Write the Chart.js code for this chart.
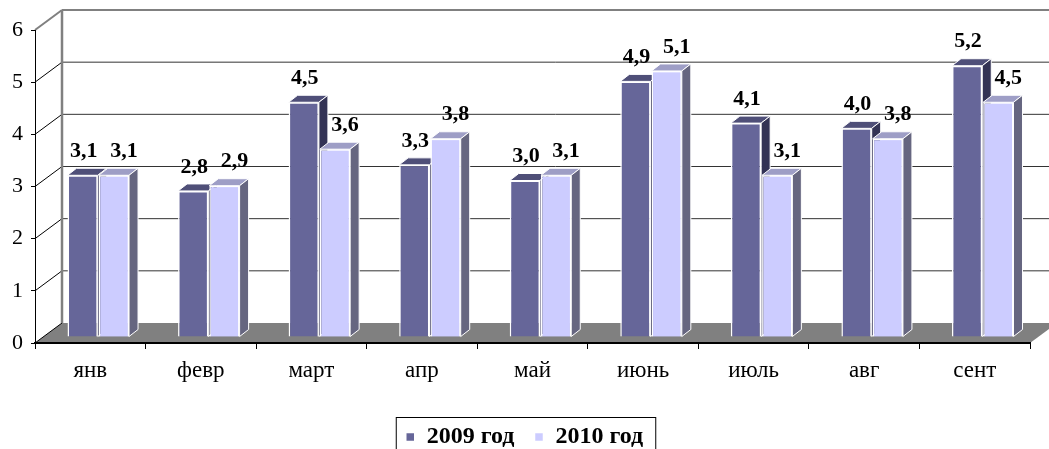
<!DOCTYPE html>
<html>
<head>
<meta charset="utf-8">
<script src="https://cdn.jsdelivr.net/npm/chart.js@4"></script>
<style>
    html, body { margin: 0; padding: 0; background: #fff; }
</style>
</head>
<body>
<canvas id="grafico" width="1049" height="449"></canvas>
<script>
const meses = ['янв', 'февр', 'март', 'апр', 'май', 'июнь', 'июль', 'авг', 'сент'];
const valores2009 = [3.1, 2.8, 4.5, 3.3, 3.0, 4.9, 4.1, 4.0, 5.2];
const valores2010 = [3.1, 2.9, 3.6, 3.8, 3.1, 5.1, 3.1, 3.8, 4.5];
const nomesSeries = ['2009 год', '2010 год'];
const marcasY = [0, 1, 2, 3, 4, 5, 6];

const fonte = 'Liberation Serif, Times New Roman, serif';

// profundidade das paredes e das barras (efeito 3D)
const parede = { dx: 27, dy: -20 };
const barra = { dx: 9, dy: -7 };
const deslocBarra = { dx: 8, dy: -6 };
const deslocRotulo = [1, 10]; // rótulos da 2ª série ficam mais à direita

const cores = [
    { frente: '#666699', topo: '#4f4f78', lado: '#333355' },
    { frente: '#ccccff', topo: '#9e9ec6', lado: '#666680' }
];

function formatar(v) {
    return v.toFixed(1).replace('.', ',');
}

function desenharFaces(ctx, el, cor) {
    const x0 = el.x - el.width / 2;
    const x1 = el.x + el.width / 2;
    const yt = el.y;
    const yb = el.base;
    ctx.strokeStyle = '#ffffff';
    ctx.lineWidth = 1;
    // topo
    ctx.fillStyle = cor.topo;
    ctx.beginPath();
    ctx.moveTo(x0, yt);
    ctx.lineTo(x1, yt);
    ctx.lineTo(x1 + barra.dx, yt + barra.dy);
    ctx.lineTo(x0 + barra.dx, yt + barra.dy);
    ctx.closePath();
    ctx.fill();
    ctx.stroke();
    // lado
    ctx.fillStyle = cor.lado;
    ctx.beginPath();
    ctx.moveTo(x1, yt);
    ctx.lineTo(x1 + barra.dx, yt + barra.dy);
    ctx.lineTo(x1 + barra.dx, yb + barra.dy);
    ctx.lineTo(x1, yb);
    ctx.closePath();
    ctx.fill();
    ctx.stroke();
}

const plugin3d = {
    id: 'efeito3d',
    beforeDraw(chart) {
        const ctx = chart.ctx;
        const y = chart.scales.y;
        const area = chart.chartArea;
        const xEsq = area.left + parede.dx;
        const xDir = chart.width;
        ctx.save();

        // piso
        const y0 = y.getPixelForValue(0);
        ctx.fillStyle = '#808080';
        ctx.beginPath();
        ctx.moveTo(area.left, y0);
        ctx.lineTo(xEsq, y0 + parede.dy);
        ctx.lineTo(area.right + parede.dx, y0 + parede.dy);
        ctx.lineTo(area.right, y0);
        ctx.closePath();
        ctx.fill();

        // linhas de grade na parede de fundo e na parede lateral
        marcasY.forEach(v => {
            const py = y.getPixelForValue(v);
            const topo = v === marcasY[marcasY.length - 1];
            if (v > 0) {
                ctx.strokeStyle = topo ? '#808080' : '#333333';
                ctx.lineWidth = topo ? 2 : 1;
                ctx.beginPath();
                ctx.moveTo(xEsq, py + parede.dy);
                ctx.lineTo(xDir, py + parede.dy);
                ctx.stroke();
            }
            ctx.strokeStyle = topo ? '#808080' : '#000000';
            ctx.lineWidth = topo ? 2 : 1;
            ctx.beginPath();
            ctx.moveTo(area.left, py);
            ctx.lineTo(xEsq, py + parede.dy);
            ctx.stroke();
        });

        // aresta vertical da parede lateral
        ctx.strokeStyle = '#808080';
        ctx.lineWidth = 2.5;
        ctx.beginPath();
        ctx.moveTo(xEsq, y.getPixelForValue(6) + parede.dy);
        ctx.lineTo(xEsq, y0 + parede.dy);
        ctx.stroke();
        ctx.restore();
    },
    beforeDatasetsDraw(chart) {
        chart.ctx.save();
        chart.ctx.translate(deslocBarra.dx, deslocBarra.dy);
    },
    afterDatasetsDraw(chart) {
        const ctx = chart.ctx;
        // faces 3D: primeiro 2009, depois a frente de 2010 redesenhada por cima, depois as faces de 2010
        const meta0 = chart.getDatasetMeta(0);
        const meta1 = chart.getDatasetMeta(1);
        meta0.data.forEach(el => desenharFaces(ctx, el, cores[0]));
        meta1.data.forEach(el => el.draw(ctx));
        meta1.data.forEach(el => desenharFaces(ctx, el, cores[1]));
        ctx.restore();

        // rótulos de valores
        ctx.save();
        ctx.font = 'bold 22px ' + fonte;
        ctx.fillStyle = '#000';
        ctx.textAlign = 'center';
        ctx.textBaseline = 'middle';
        chart.data.datasets.forEach((ds, i) => {
            chart.getDatasetMeta(i).data.forEach((el, j) => {
                ctx.fillText(formatar(ds.data[j]), el.x + deslocBarra.dx + deslocRotulo[i], el.y + deslocBarra.dy - 24);
            });
        });
        ctx.restore();
    },
    afterDraw(chart) {
        const l = chart.legend;
        if (!l || !l.legendHitBoxes.length) return;
        const caixas = l.legendHitBoxes;
        const esq = caixas[0].left - 10;
        const dir = caixas[caixas.length - 1].left + caixas[caixas.length - 1].width + 12;
        const ctx = chart.ctx;
        ctx.save();
        ctx.strokeStyle = '#000';
        ctx.lineWidth = 1;
        ctx.strokeRect(esq + 0.5, caixas[0].top - 7.5, dir - esq, 60);
        ctx.restore();
    }
};

new Chart(document.getElementById('grafico').getContext('2d'), {
    type: 'bar',
    data: {
        labels: meses,
        datasets: [{
            label: nomesSeries[0],
            data: valores2009,
            backgroundColor: cores[0].frente,
            borderColor: '#ffffff',
            borderWidth: 1.5
        }, {
            label: nomesSeries[1],
            data: valores2010,
            backgroundColor: cores[1].frente,
            borderColor: '#ffffff',
            borderWidth: 1.5
        }]
    },
    options: {
        responsive: false,
        animation: false,
        events: [],
        layout: {
            padding: { top: 30, right: 0, bottom: -10, left: 0 }
        },
        datasets: {
            bar: {
                barPercentage: 0.97,
                categoryPercentage: 0.565
            }
        },
        scales: {
            x: {
                afterFit: s => { s.height = 62; },
                grid: { drawOnChartArea: false, offset: true, tickLength: 6, color: '#000' },
                border: { display: true, color: '#000', width: 2 },
                ticks: { color: '#000', padding: 8, font: { family: fonte, size: 23 } }
            },
            y: {
                min: 0,
                max: 6,
                afterFit: s => { s.width = 35; },
                ticks: { stepSize: 1, color: '#000', padding: 8, font: { family: fonte, size: 22 } },
                grid: { drawOnChartArea: false, tickLength: 4, color: '#000' },
                border: { display: true, color: '#000', width: 1 }
            },
            // eixo vazio à direita, só para reservar a margem da parede de fundo
            margemDir: {
                type: 'linear',
                position: 'right',
                afterFit: s => { s.width = 19; },
                ticks: { display: false },
                grid: { display: false },
                border: { display: false }
            }
        },
        plugins: {
            tooltip: { enabled: false },
            legend: {
                position: 'bottom',
                labels: {
                    padding: 20,
                    boxWidth: 9,
                    boxHeight: 9,
                    color: '#000',
                    font: { family: fonte, size: 24, weight: 'bold' }
                }
            }
        }
    },
    plugins: [plugin3d]
});
</script>
</body>
</html>
